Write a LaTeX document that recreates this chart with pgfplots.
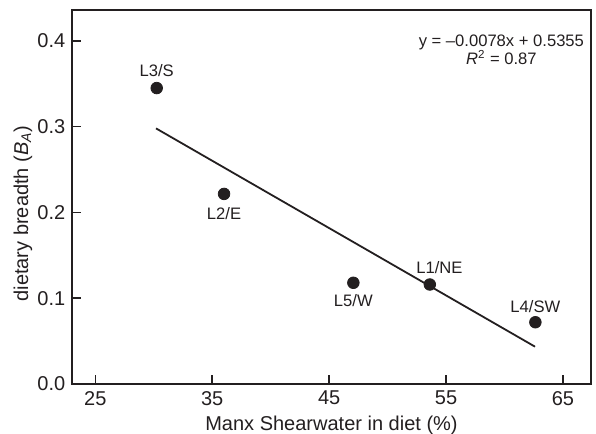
\documentclass[border=0pt]{standalone}
\usepackage{fontspec}
\setmainfont{Liberation Sans}
\usepackage{pgfplots}
\pgfplotsset{compat=1.18}
\definecolor{ink}{HTML}{231F20}
\begin{document}
\begin{tikzpicture}
\useasboundingbox (-36.15pt,-25pt) rectangle (261.85pt,192pt);
\begin{axis}[
  at={(0,0)}, anchor=south west,
  scale only axis, width=259.2pt, height=187pt,
  xmin=23.03, xmax=67.37, ymin=0, ymax=0.436,
  xtick={25,35,45,55,65}, ytick={0,0.1,0.2,0.3,0.4},
  tick align=inside, major tick length=4.6pt,
  xtick pos=bottom, ytick pos=left,
  axis line style={ink, line width=0.9pt},
  every tick/.style={ink, line width=0.8pt},
  tick label style={font=\fontsize{10}{12}\selectfont, text=ink},
  /pgf/number format/assume math mode=true,
  yticklabel style={/pgf/number format/fixed, /pgf/number format/precision=1, /pgf/number format/fixed zerofill},
  xticklabel style={/pgf/number format/fixed},
  scaled y ticks=false,
  xlabel={Manx Shearwater in diet (\%)},
  ylabel={dietary breadth (\textit{B}\textsubscript{\textit{A}})},
  label style={font=\fontsize{10}{12}\selectfont, text=ink},
  xlabel style={at={(axis description cs:0.5,-0.110)}, anchor=center},
  ylabel style={at={(axis description cs:-0.095,0.456)}, anchor=center, rotate=0},
  clip=false,
]
\addplot[ink, line width=0.9pt, no marks] coordinates {(30.19,0.298) (62.61,0.0435)};
\addplot[only marks, mark=*, mark size=2.9pt, ink, mark options={fill=ink}] coordinates {
  (30.25,0.345) (36.01,0.2216) (47.07,0.118) (53.61,0.116) (62.64,0.072)};
\begin{scope}[every node/.style={font=\fontsize{8.3}{10}\selectfont, text=ink}]
\node[yshift=8.5pt] at (axis cs:30.25,0.345) {L3/S};
\node[yshift=-9.6pt] at (axis cs:36.01,0.2216) {L2/E};
\node[yshift=-8.8pt] at (axis cs:47.07,0.118) {L5/W};
\node[yshift=8.4pt, xshift=4.8pt] at (axis cs:53.61,0.116) {L1/NE};
\node[yshift=8pt] at (axis cs:62.64,0.072) {L4/SW};
\node[align=center, inner sep=0pt] at (axis cs:59.73,0.390) {y = –0.0078x + 0.5355\\[-1pt]\textit{R}\textsuperscript{2} = 0.87};
\end{scope}
\end{axis}
\end{tikzpicture}
\end{document}
